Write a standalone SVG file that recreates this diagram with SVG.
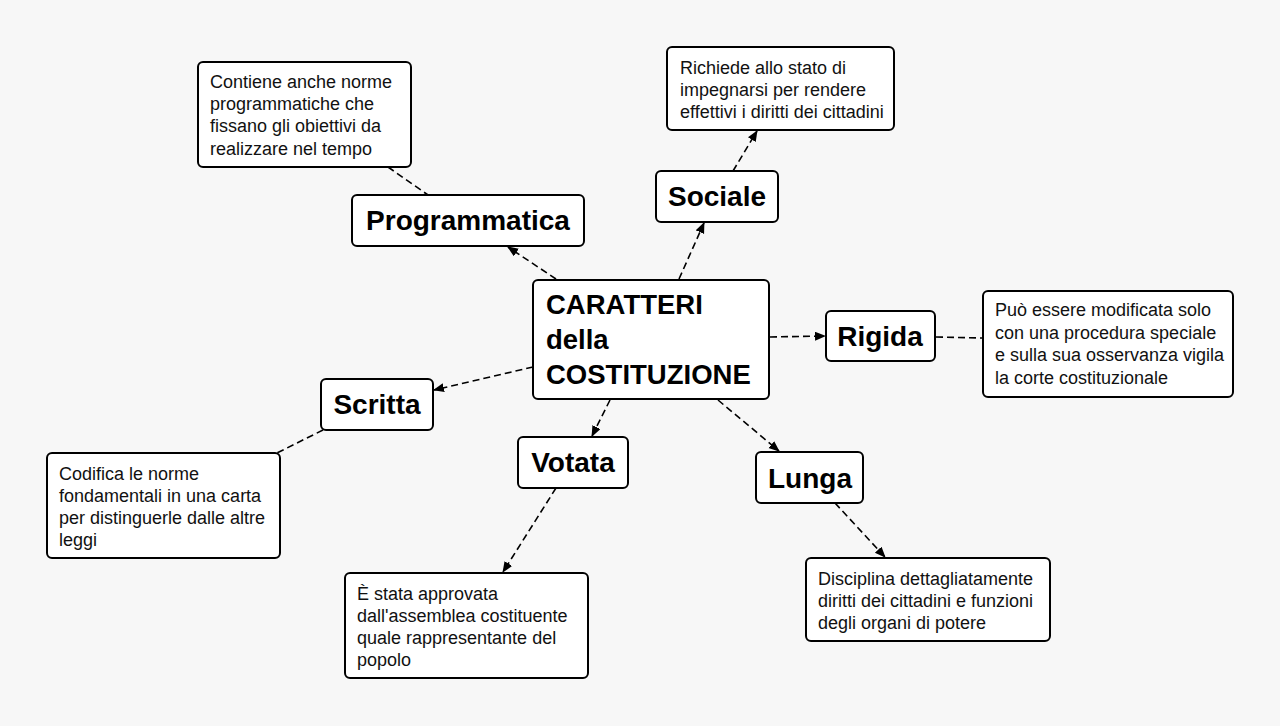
<svg xmlns="http://www.w3.org/2000/svg" width="1280" height="726" viewBox="0 0 1280 726">
<defs>
<style>
.box{fill:#fff;stroke:#000;stroke-width:2}
.lbl{font-family:"Liberation Sans",Arial,sans-serif;font-weight:bold;font-size:28px;fill:#000;text-anchor:middle}
.ctr{font-family:"Liberation Sans",Arial,sans-serif;font-weight:bold;font-size:27.5px;fill:#000}
.desc{font-family:"Liberation Sans",Arial,sans-serif;font-size:18px;fill:#111}
.con{fill:none;stroke:#000;stroke-width:1.6;stroke-dasharray:7 4}
.arr{marker-end:url(#ah)}
</style>
<marker id="ah" markerUnits="userSpaceOnUse" markerWidth="11" markerHeight="10" refX="10" refY="4.5" orient="auto">
<path d="M0,0 L11,4.5 L0,9 z" fill="#000"/>
</marker>
</defs>
<rect width="1280" height="726" fill="#f7f7f7"/>

<g id="connectors">
<line class="con arr" x1="556" y1="279" x2="508" y2="247"/>
<line class="con" x1="388" y1="167" x2="428" y2="195"/>
<line class="con arr" x1="679" y1="279" x2="704" y2="223"/>
<line class="con arr" x1="733" y1="171" x2="757" y2="131"/>
<line class="con arr" x1="770" y1="337" x2="825" y2="336"/>
<line class="con" x1="936" y1="337" x2="983" y2="338"/>
<line class="con arr" x1="533" y1="367" x2="434" y2="390"/>
<line class="con" x1="323" y1="430" x2="277" y2="453"/>
<line class="con arr" x1="610" y1="400" x2="592" y2="436"/>
<line class="con arr" x1="556" y1="488" x2="503" y2="572"/>
<line class="con arr" x1="718" y1="400" x2="779" y2="451"/>
<line class="con arr" x1="835" y1="503" x2="885" y2="557"/>
</g>

<g id="center">
<rect class="box" x="533" y="280" width="236" height="119" rx="5"/>
<text class="ctr" x="546" y="314">CARATTERI</text>
<text class="ctr" x="546" y="349">della</text>
<text class="ctr" x="546" y="384">COSTITUZIONE</text>
</g>

<g id="programmatica">
<rect class="box" x="352" y="195" width="232" height="51" rx="5"/>
<text class="lbl" x="468" y="230">Programmatica</text>
</g>
<g id="programmatica-desc">
<rect class="box" x="198" y="62" width="213" height="105" rx="5"/>
<text class="desc" x="210" y="88">Contiene anche norme</text>
<text class="desc" x="210" y="110">programmatiche che</text>
<text class="desc" x="210" y="132">fissano gli obiettivi da</text>
<text class="desc" x="210" y="155">realizzare nel tempo</text>
</g>

<g id="sociale">
<rect class="box" x="656" y="171" width="122" height="51" rx="5"/>
<text class="lbl" x="717" y="206">Sociale</text>
</g>
<g id="sociale-desc">
<rect class="box" x="667" y="47" width="227" height="83" rx="5"/>
<text class="desc" x="680" y="74">Richiede allo stato di</text>
<text class="desc" x="680" y="96">impegnarsi per rendere</text>
<text class="desc" x="680" y="118">effettivi i diritti dei cittadini</text>
</g>

<g id="rigida">
<rect class="box" x="826" y="311" width="109" height="50" rx="5"/>
<text class="lbl" x="880" y="346">Rigida</text>
</g>
<g id="rigida-desc">
<rect class="box" x="983" y="291" width="250" height="106" rx="5"/>
<text class="desc" x="995" y="316">Può essere modificata solo</text>
<text class="desc" x="995" y="339">con una procedura speciale</text>
<text class="desc" x="995" y="361">e sulla sua osservanza vigila</text>
<text class="desc" x="995" y="384">la corte costituzionale</text>
</g>

<g id="scritta">
<rect class="box" x="321" y="379" width="112" height="51" rx="5"/>
<text class="lbl" x="377" y="414">Scritta</text>
</g>
<g id="scritta-desc">
<rect class="box" x="47" y="453" width="233" height="105" rx="5"/>
<text class="desc" x="59" y="480">Codifica le norme</text>
<text class="desc" x="59" y="502">fondamentali in una carta</text>
<text class="desc" x="59" y="524">per distinguerle dalle altre</text>
<text class="desc" x="59" y="546">leggi</text>
</g>

<g id="votata">
<rect class="box" x="518" y="437" width="110" height="51" rx="5"/>
<text class="lbl" x="573" y="472">Votata</text>
</g>
<g id="votata-desc">
<rect class="box" x="345" y="573" width="243" height="105" rx="5"/>
<text class="desc" x="357" y="600">È stata approvata</text>
<text class="desc" x="357" y="622">dall'assemblea costituente</text>
<text class="desc" x="357" y="644">quale rappresentante del</text>
<text class="desc" x="357" y="666">popolo</text>
</g>

<g id="lunga">
<rect class="box" x="756" y="452" width="107" height="51" rx="5"/>
<text class="lbl" x="810" y="488">Lunga</text>
</g>
<g id="lunga-desc">
<rect class="box" x="806" y="558" width="244" height="83" rx="5"/>
<text class="desc" x="818" y="585">Disciplina dettagliatamente</text>
<text class="desc" x="818" y="607">diritti dei cittadini e funzioni</text>
<text class="desc" x="818" y="629">degli organi di potere</text>
</g>
</svg>
